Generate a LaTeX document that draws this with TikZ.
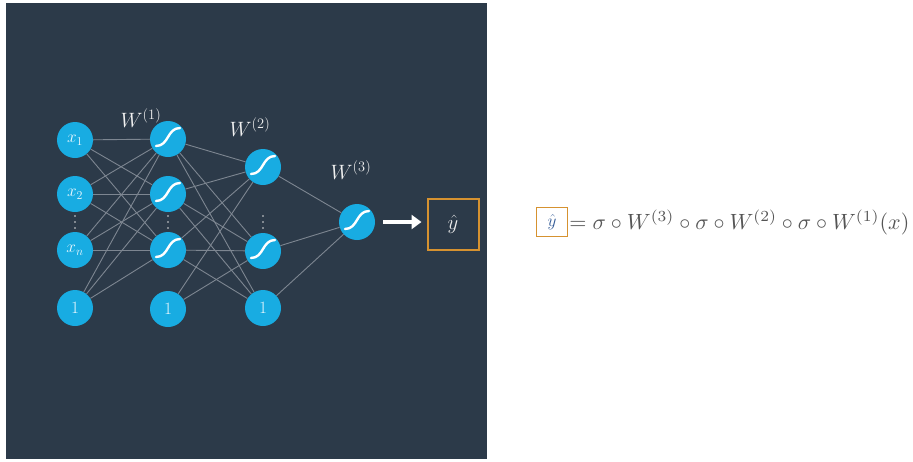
\documentclass[tikz,border=0pt]{standalone}
\usetikzlibrary{arrows.meta}
\pgfdeclarelayer{bg}
\pgfdeclarelayer{edges}
\pgfsetlayers{bg,edges,main}
\definecolor{bgdark}{RGB}{44,58,73}
\definecolor{nodecyan}{RGB}{24,172,226}
\definecolor{edgegray}{RGB}{125,134,145}
\definecolor{boxorange}{RGB}{214,146,48}
\definecolor{eqgray}{RGB}{85,85,85}
\definecolor{haty}{RGB}{50,90,150}
\begin{document}
\begin{tikzpicture}[x=1pt,y=-1pt,
  neuron/.style={circle,fill=nodecyan,minimum size=36pt,inner sep=0pt,text=white!92!cyan,font=\fontsize{17}{19}\selectfont},
  sig/.style={neuron,path picture={
    \draw[white,line width=2.4pt,line cap=round]
      ([shift={(-12pt,-7pt)}]path picture bounding box.center)
      .. controls +(13pt,0pt) and +(-13pt,0pt) ..
      ([shift={(12pt,11pt)}]path picture bounding box.center);}},
  edge/.style={draw=edgegray,line width=0.9pt},
  wlab/.style={text=white!88!gray,font=\fontsize{20}{23}\selectfont},
  dotfill/.style={fill=white!70!gray}
]
\useasboundingbox (0,0) rectangle (913,461);
\begin{pgfonlayer}{bg}
\fill[white] (0,0) rectangle (913,461);
\fill[bgdark] (6,3) rectangle (487,459);
\end{pgfonlayer}

% layer 0
\node[neuron] (a1) at (75,140) {$x_1$};
\node[neuron] (a2) at (75,194) {$x_2$};
\node[neuron] (an) at (75,250) {$x_n$};
\node[neuron] (ab) at (75,308) {$1$};
% layer 1
\node[sig] (b1) at (168,139) {};
\node[sig] (b2) at (168,194) {};
\node[sig] (bn) at (168,250) {};
\node[neuron] (bb) at (168,309) {$1$};
% layer 2
\node[sig] (c1) at (263,167) {};
\node[sig] (cn) at (263,251) {};
\node[neuron] (cb) at (263,308) {$1$};
% output
\node[sig] (d) at (357,222) {};

% edges
\begin{pgfonlayer}{edges}
\foreach \s in {a1,a2,an,ab}{
  \foreach \t in {b1,b2,bn}{\path[edge] (\s) -- (\t);}}
\foreach \s in {b1,b2,bn}{
  \foreach \t in {c1,cn,cb}{\path[edge] (\s) -- (\t);}}
\foreach \t in {c1,cn}{\path[edge] (bb) -- (\t);}
\foreach \s in {c1,cn,cb}{\path[edge] (\s) -- (d);}
\end{pgfonlayer}

% vertical dots
\foreach \x in {75,168,263}{
  \foreach \y in {216,222,228}{\fill[dotfill] (\x,\y) circle (0.95pt);}}

% weight labels
\node[wlab] (w1) at (141,118) {$W^{(1)}$};
\node[wlab] (w2) at (250,127) {$W^{(2)}$};
\node[wlab] (w3) at (351,170) {$W^{(3)}$};

% output box and arrow
\node[draw=boxorange,line width=2pt,minimum width=51pt,minimum height=51pt,inner sep=0pt,
      text=white!85!gray,font=\fontsize{22}{24}\selectfont] (y) at (453,224) {$\hat y$};
\coordinate (as) at ([xshift=8pt]d.east);
\coordinate (ae) at ([xshift=-5pt]d.east -| y.west);
\draw[white,line width=4pt,-{Triangle[length=10pt,width=14pt]}] (as) -- (ae);

% equation
\node[draw=boxorange,line width=1.4pt,minimum width=31pt,minimum height=29pt,inner sep=0pt,
      text=haty,font=\fontsize{18}{20}\selectfont] (yb) at (552,222) {$\hat y$};
\node[anchor=west,inner sep=0pt,text=eqgray] (eq) at ([xshift=1pt]yb.east)
  {\resizebox{340pt}{!}{$=\sigma\circ W^{(3)}\circ\sigma\circ W^{(2)}\circ\sigma\circ W^{(1)}(x)$}};
\end{tikzpicture}
\end{document}
